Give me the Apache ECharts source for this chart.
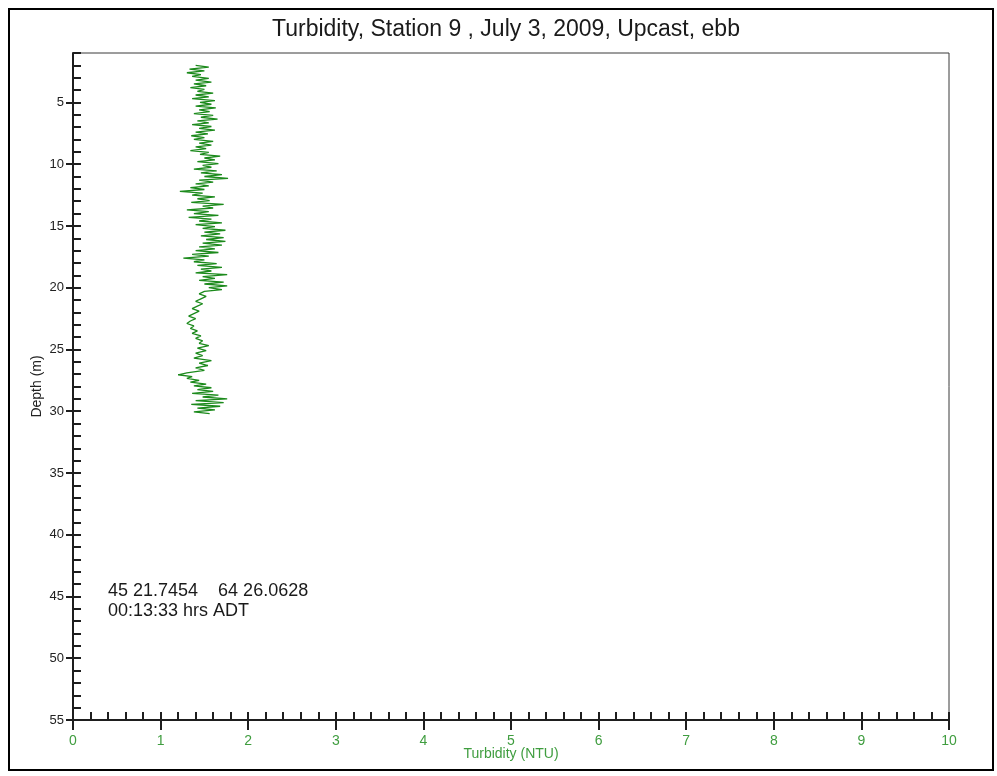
<!DOCTYPE html>
<html>
<head>
<meta charset="utf-8">
<title>Turbidity profile</title>
<script src="https://cdn.jsdelivr.net/npm/echarts@6/dist/echarts.min.js"></script>
<style>
  html, body { margin: 0; padding: 0; background: #fff; }
  #chart { width: 997px; height: 776px; }
</style>
</head>
<body>
<div id="chart"></div>
<script>
// Upcast profile: depth (m) and turbidity (NTU) samples
const depth = [
  2.0, 2.15, 2.3, 2.45, 2.6, 2.75, 2.9, 3.05, 3.2, 3.35, 3.5, 3.65, 3.8, 3.95, 4.1, 4.25, 4.4, 4.55, 4.7, 4.85,
  5.0, 5.15, 5.3, 5.45, 5.6, 5.75, 5.9, 6.05, 6.2, 6.35, 6.5, 6.65, 6.8, 6.95, 7.1, 7.25, 7.4, 7.55, 7.7, 7.85,
  8.0, 8.15, 8.3, 8.45, 8.6, 8.75, 8.9, 9.05, 9.2, 9.35, 9.5, 9.65, 9.8, 9.95, 10.1, 10.25, 10.4, 10.55, 10.7, 10.85,
  11.0, 11.15, 11.3, 11.45, 11.6, 11.75, 11.9, 12.05, 12.2, 12.35, 12.5, 12.65, 12.8, 12.95, 13.1, 13.25, 13.4, 13.55, 13.7, 13.85,
  14.0, 14.15, 14.3, 14.45, 14.6, 14.75, 14.9, 15.05, 15.2, 15.35, 15.5, 15.65, 15.8, 15.95, 16.1, 16.25, 16.4, 16.55, 16.7, 16.85,
  17.0, 17.15, 17.3, 17.45, 17.6, 17.75, 17.9, 18.05, 18.2, 18.35, 18.5, 18.65, 18.8, 18.95, 19.1, 19.25, 19.4, 19.55, 19.7, 19.85,
  20.0, 20.15, 20.3, 20.5, 20.7, 20.9, 21.1, 21.3, 21.5, 21.7, 21.9, 22.1, 22.3, 22.5, 22.7, 22.9, 23.1, 23.3, 23.5, 23.7,
  23.9, 24.1, 24.3, 24.5, 24.7, 24.9, 25.1, 25.3, 25.5, 25.7, 25.9, 26.1, 26.3, 26.5, 26.7, 26.9, 27.05, 27.2, 27.35, 27.5,
  27.65, 27.8, 27.95, 28.1, 28.25, 28.4, 28.55, 28.7, 28.85, 29.0, 29.15, 29.3, 29.45, 29.6, 29.75, 29.9, 30.05, 30.2
];
const turbidity = [
  1.40, 1.55, 1.33, 1.50, 1.30, 1.46, 1.36, 1.55, 1.40, 1.58, 1.38, 1.52, 1.34, 1.50, 1.42, 1.60, 1.40, 1.55, 1.36, 1.62,
  1.45, 1.58, 1.40, 1.63, 1.44, 1.56, 1.38, 1.60, 1.46, 1.65, 1.42, 1.55, 1.36, 1.58, 1.44, 1.62, 1.40, 1.54, 1.35, 1.50,
  1.38, 1.60, 1.44, 1.58, 1.40, 1.52, 1.34, 1.55, 1.45, 1.68, 1.50, 1.62, 1.42, 1.66, 1.48, 1.58, 1.38, 1.64, 1.46, 1.70,
  1.50, 1.77, 1.44, 1.60, 1.40, 1.55, 1.34, 1.50, 1.22, 1.48, 1.36, 1.62, 1.42, 1.56, 1.35, 1.72, 1.48, 1.60, 1.30, 1.55,
  1.38, 1.66, 1.32, 1.58, 1.44, 1.70, 1.40, 1.62, 1.48, 1.74, 1.50, 1.68, 1.46, 1.72, 1.52, 1.74, 1.48, 1.70, 1.44, 1.62,
  1.40, 1.66, 1.36, 1.55, 1.26, 1.50, 1.38, 1.64, 1.42, 1.70, 1.46, 1.58, 1.40, 1.76, 1.48, 1.62, 1.44, 1.72, 1.50, 1.76,
  1.55, 1.70, 1.50, 1.44, 1.52, 1.46, 1.40, 1.48, 1.42, 1.36, 1.44, 1.38, 1.32, 1.40, 1.34, 1.30, 1.38, 1.34, 1.42, 1.36,
  1.46, 1.40, 1.48, 1.44, 1.55, 1.42, 1.52, 1.40, 1.48, 1.38, 1.58, 1.44, 1.54, 1.40, 1.50, 1.30, 1.20, 1.36, 1.30, 1.44,
  1.34, 1.52, 1.38, 1.58, 1.42, 1.60, 1.36, 1.66, 1.48, 1.76, 1.40, 1.72, 1.35, 1.68, 1.42, 1.62, 1.38, 1.56
];

// Axis tick labels
const depthTicks = [5, 10, 15, 20, 25, 30, 35, 40, 45, 50, 55];
const turbidityTicks = [0, 1, 2, 3, 4, 5, 6, 7, 8, 9, 10];

const titleText = 'Turbidity, Station 9 , July 3, 2009, Upcast, ebb';
const positionText = ['45 21.7454    64 26.0628', '00:13:33 hrs ADT'];

const FONT = '"Liberation Sans", Arial, sans-serif';
const LINE_GREEN = '#1c8a1c';
const LABEL_GREEN = '#3f9d3f';
const AXIS = '#1e1e1e';

const depthMin = 1, depthMax = 55;
const gridTop = 53, gridBottom = 56, gridLeft = 73, gridRight = 48;
const pxPerMetre = (776 - gridTop - gridBottom) / (depthMax - depthMin);

const chart = echarts.init(document.getElementById('chart'), null, { renderer: 'canvas' });

chart.setOption({
  backgroundColor: '#fff',
  animation: false,
  textStyle: { fontFamily: FONT },
  title: {
    text: titleText,
    left: 267,
    top: 13,
    textStyle: { fontFamily: FONT, fontSize: 23, fontWeight: 'normal', color: '#1a1a1a' }
  },
  grid: [
    { // plotting frame
      left: gridLeft, right: gridRight, top: gridTop, bottom: gridBottom,
      show: true, borderColor: '#3a3a3a', borderWidth: 1, backgroundColor: 'transparent'
    },
    { // labelled depth scale, starting at the first labelled depth
      left: gridLeft, right: gridRight,
      top: gridTop + (depthTicks[0] - depthMin) * pxPerMetre, bottom: gridBottom
    }
  ],
  xAxis: [
    {
      gridIndex: 0, type: 'value', position: 'bottom',
      min: turbidityTicks[0], max: turbidityTicks[turbidityTicks.length - 1], interval: 1,
      axisLine: { show: true, lineStyle: { color: AXIS, width: 2 } },
      axisTick: { show: true, inside: true, length: 8, lineStyle: { color: AXIS, width: 2 } },
      minorTick: { show: true, splitNumber: 5, length: 8, lineStyle: { color: AXIS, width: 2 } },
      axisLabel: { show: true, color: LABEL_GREEN, fontSize: 14, margin: 14, fontFamily: FONT,
                   formatter: v => turbidityTicks.includes(v) ? String(v) : '' },
      splitLine: { show: false }
    },
    {
      gridIndex: 0, type: 'value', position: 'bottom',
      min: turbidityTicks[0], max: turbidityTicks[turbidityTicks.length - 1], interval: 1,
      name: 'Turbidity (NTU)', nameLocation: 'middle', nameGap: 27,
      nameTextStyle: { color: LABEL_GREEN, fontSize: 14, fontFamily: FONT },
      axisLine: { show: false },
      axisTick: { show: true, inside: false, length: 10, lineStyle: { color: AXIS, width: 2 } },
      axisLabel: { show: false },
      splitLine: { show: false }
    },
    {
      gridIndex: 1, type: 'value', show: false, min: 0, max: 10
    }
  ],
  yAxis: [
    {
      gridIndex: 0, type: 'value', inverse: true,
      min: depthMin, max: depthMax, interval: 1,
      name: 'Depth (m)', nameLocation: 'middle', nameGap: 29,
      nameTextStyle: { color: '#222', fontSize: 14, fontFamily: FONT },
      axisLine: { show: true, lineStyle: { color: AXIS, width: 2 } },
      axisTick: { show: true, inside: true, length: 8, lineStyle: { color: AXIS, width: 2 } },
      axisLabel: { show: false },
      splitLine: { show: false }
    },
    {
      gridIndex: 1, type: 'value', inverse: true,
      min: depthTicks[0], max: depthTicks[depthTicks.length - 1], interval: 5,
      axisLine: { show: false },
      axisTick: { show: true, inside: false, length: 7, lineStyle: { color: AXIS, width: 2 } },
      axisLabel: { show: true, color: '#222', fontSize: 13, margin: 9, fontFamily: FONT },
      splitLine: { show: false }
    }
  ],
  graphic: [
    {
      type: 'rect', silent: true, z: 100,
      shape: { x: 9, y: 9, width: 984, height: 761 },
      style: { fill: 'none', stroke: '#000', lineWidth: 2 }
    },
    {
      type: 'text', left: 108, top: 581, z: 100,
      style: { text: positionText.join('\n'), fill: '#1a1a1a', font: '18px ' + FONT, lineHeight: 20 }
    }
  ],
  series: [
    {
      type: 'line',
      xAxisIndex: 0, yAxisIndex: 0,
      data: depth.map((d, i) => [turbidity[i], d]),
      showSymbol: false,
      symbol: 'none',
      lineStyle: { color: LINE_GREEN, width: 1.3 },
      clip: true
    }
  ]
});
</script>
</body>
</html>
